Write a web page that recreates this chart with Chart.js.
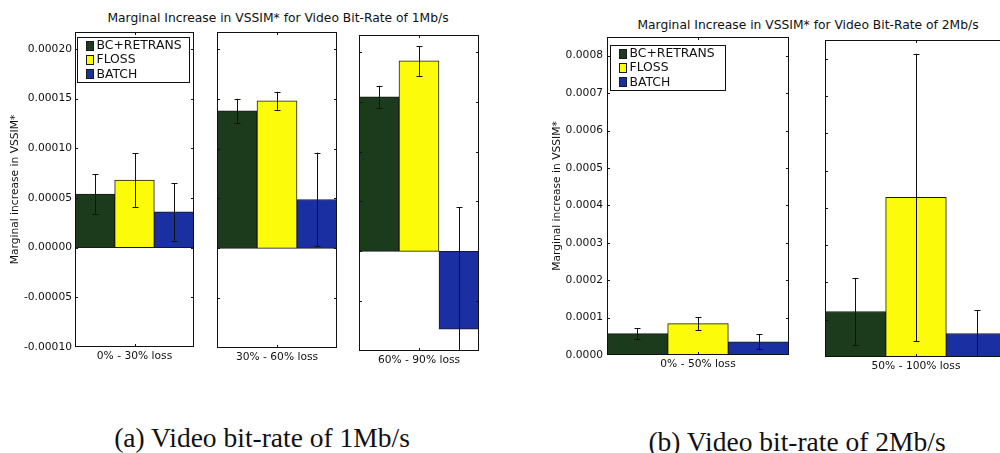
<!DOCTYPE html>
<html>
<head>
<meta charset="utf-8">
<title>Marginal Increase in VSSIM*</title>
<script src="https://cdn.jsdelivr.net/npm/chart.js@4.4.0/dist/chart.umd.min.js"></script>
<style>
  html, body { margin: 0; padding: 0; background: #fff; overflow: hidden; }
  #stage { position: relative; width: 1000px; height: 453px; overflow: hidden; background: #fff; }
  #stage canvas { position: absolute; }
  .suptitle { position: absolute; font-family: "DejaVu Sans", sans-serif; font-size: 12.3px; line-height: 14px;
              color: #111; white-space: nowrap; transform: translateX(-50%); }
  .caption { position: absolute; font-family: "Liberation Serif", serif; font-size: 27.5px; line-height: 30px;
             color: #111; white-space: nowrap; transform: translateX(-50%); }
</style>
</head>
<body>
<div id="stage">
  <div class="suptitle" style="left:278px; top:11px;">Marginal Increase in VSSIM* for Video Bit-Rate of 1Mb/s</div>
  <div class="suptitle" style="left:808px; top:18px;">Marginal Increase in VSSIM* for Video Bit-Rate of 2Mb/s</div>
  <div class="caption" style="left:262px; top:423px;">(a) Video bit-rate of 1Mb/s</div>
  <div class="caption" style="left:797px; top:427px;">(b) Video bit-rate of 2Mb/s</div>
</div>
<script>
// ---- data ----
const seriesNames = ['BC+RETRANS', 'FLOSS', 'BATCH'];

// (a) 1 Mb/s
const lossBins1 = ['0% - 30% loss', '30% - 60% loss', '60% - 90% loss'];
const bcRetrans1 = [0.000054, 0.000138, 0.000155];
const bcRetransErr1 = [0.000020, 0.000012, 0.000011];
const floss1 = [0.000068, 0.000148, 0.000191];
const flossErr1 = [0.000027, 0.000009, 0.000015];
const batch1 = [0.000036, 0.000049, -0.000078];
const batchErr1 = [0.000029, 0.000047, 0.000122];
const yTicks1 = [-0.0001, -0.00005, 0, 0.00005, 0.0001, 0.00015, 0.0002];

// (b) 2 Mb/s
const lossBins2 = ['0% - 50% loss', '50% - 100% loss'];
const bcRetrans2 = [0.000057, 0.000122];
const bcRetransErr2 = [0.000015, 0.000090];
const floss2 = [0.000084, 0.000428];
const flossErr2 = [0.000017, 0.000385];
const batch2 = [0.000035, 0.000063];
const batchErr2 = [0.000020, 0.000062];
const yTicks2 = [0, 0.0001, 0.0002, 0.0003, 0.0004, 0.0005, 0.0006, 0.0007, 0.0008];

// ---- styling ----
const seriesColors = ['#1c3b1d', '#fcfb0a', '#1a30a2'];
const edgeColor = '#1a1a1a';
const yTitle = 'Marginal increase in VSSIM*';

const figures = {
  a: { bins: lossBins1, values: [bcRetrans1, floss1, batch1], errors: [bcRetransErr1, flossErr1, batchErr1],
       ticks: yTicks1, min: -0.0001, max: 0.000217, digits: 5 },
  b: { bins: lossBins2, values: [bcRetrans2, floss2, batch2], errors: [bcRetransErr2, flossErr2, batchErr2],
       ticks: yTicks2, min: 0, max: 0.00085, digits: 4 }
};

// canvas placement for each panel
const panels = [
  { fig: 'a', i: 0, left: 0,   top: 0, w: 200, h: 380, pad: { left: 0, right: 6, top: 32, bottom: 0 }, yW: 75, xH: 33,
    labelPad: 3, titlePad: 8.6, legend: { dx: 2, dy: 5, w: 112, h: 45 } },
  { fig: 'a', i: 1, left: 210, top: 0, w: 135, h: 380, pad: { left: 7, right: 8, top: 32, bottom: 0 }, xH: 32 },
  { fig: 'a', i: 2, left: 352, top: 0, w: 135, h: 380, pad: { left: 7, right: 8, top: 35, bottom: 0 }, xH: 29 },
  { fig: 'b', i: 0, left: 540, top: 0, w: 255, h: 390, pad: { left: 0, right: 6, top: 37, bottom: 0 }, yW: 67, xH: 35,
    labelPad: 4, titlePad: 10.6, legend: { dx: 3, dy: 8, w: 115, h: 45 } },
  { fig: 'b', i: 1, left: 815, top: 0, w: 200, h: 390, pad: { left: 10, right: 8, top: 40, bottom: 0 }, xH: 33 }
];

Chart.defaults.font.family = '"DejaVu Sans", sans-serif';
Chart.defaults.color = '#111';

// frame, inward tick marks and error bars
const panelDecor = {
  id: 'panelDecor',
  afterDatasetsDraw(chart, args, opts) {
    const { ctx, chartArea: a, scales: { x, y } } = chart;
    ctx.save();
    ctx.strokeStyle = '#111';
    ctx.lineWidth = 1;

    // error bars, clipped to the plot area
    ctx.save();
    ctx.beginPath();
    ctx.rect(a.left, a.top, a.right - a.left, a.bottom - a.top);
    ctx.clip();
    chart.data.datasets.forEach((ds, d) => {
      const bar = chart.getDatasetMeta(d).data[0];
      const v = ds.data[0], e = ds.errorBars[0];
      const px = Math.round(bar.x) + 0.5;
      const yHi = y.getPixelForValue(v + e), yLo = y.getPixelForValue(v - e);
      ctx.beginPath();
      ctx.moveTo(px, yHi); ctx.lineTo(px, yLo);
      ctx.moveTo(px - 3, Math.round(yHi) + 0.5); ctx.lineTo(px + 3, Math.round(yHi) + 0.5);
      ctx.moveTo(px - 3, Math.round(yLo) + 0.5); ctx.lineTo(px + 3, Math.round(yLo) + 0.5);
      ctx.stroke();
    });
    ctx.restore();

    // inward ticks
    ctx.beginPath();
    opts.ticks.forEach(v => {
      const py = Math.round(y.getPixelForValue(v)) + 0.5;
      if (py < a.top || py > a.bottom) return;
      ctx.moveTo(a.left, py); ctx.lineTo(a.left + 3, py);
      ctx.moveTo(a.right - 3, py); ctx.lineTo(a.right, py);
    });
    const cx = Math.round(x.getPixelForValue(0)) + 0.5;
    ctx.moveTo(cx, a.bottom); ctx.lineTo(cx, a.bottom - 3);
    ctx.moveTo(cx, a.top); ctx.lineTo(cx, a.top + 3);
    ctx.stroke();

    // frame
    ctx.strokeRect(Math.round(a.left) + 0.5, Math.round(a.top) + 0.5,
                   Math.round(a.right - a.left) - 1, Math.round(a.bottom - a.top) - 1);
    ctx.restore();
  }
};

// boxed legend in the upper-left corner of the plot area
const boxLegend = {
  id: 'boxLegend',
  afterDraw(chart, args, opts) {
    if (!opts.box) return;
    const { ctx, chartArea: a } = chart;
    const b = opts.box;
    const bx = Math.round(a.left + b.dx) + 0.5, by = Math.round(a.top + b.dy) + 0.5;
    ctx.save();
    ctx.fillStyle = '#fff';
    ctx.fillRect(bx, by, b.w, b.h);
    ctx.strokeStyle = '#111';
    ctx.lineWidth = 1;
    ctx.strokeRect(bx, by, b.w, b.h);
    ctx.font = '12.4px "DejaVu Sans", sans-serif';
    ctx.textBaseline = 'middle';
    chart.data.datasets.forEach((ds, k) => {
      const cy = by + 8 + 14.2 * k;
      ctx.fillStyle = ds.backgroundColor;
      ctx.fillRect(bx + 9, Math.round(cy - 4.5), 7, 9);
      ctx.strokeStyle = edgeColor;
      ctx.strokeRect(bx + 9, Math.round(cy - 4.5) + 0.5, 7, 9);
      ctx.fillStyle = '#111';
      ctx.fillText(ds.label, bx + 19, cy + 0.5);
    });
    ctx.restore();
  }
};

panels.forEach(p => {
  const f = figures[p.fig];
  const canvas = document.createElement('canvas');
  canvas.width = p.w;
  canvas.height = p.h;
  canvas.style.left = p.left + 'px';
  canvas.style.top = p.top + 'px';
  canvas.style.width = p.w + 'px';
  canvas.style.height = p.h + 'px';
  document.getElementById('stage').appendChild(canvas);

  const hasAxis = !!p.yW;
  new Chart(canvas, {
    type: 'bar',
    data: {
      labels: [f.bins[p.i]],
      datasets: seriesNames.map((name, s) => ({
        label: name,
        data: [f.values[s][p.i]],
        errorBars: [f.errors[s][p.i]],
        backgroundColor: seriesColors[s],
        borderColor: edgeColor,
        borderWidth: 1,
        borderSkipped: false,
        barPercentage: 1,
        categoryPercentage: 1
      }))
    },
    options: {
      responsive: false,
      devicePixelRatio: 1,
      animation: false,
      events: [],
      layout: { padding: p.pad },
      plugins: {
        legend: { display: false },
        tooltip: { enabled: false },
        panelDecor: { ticks: f.ticks },
        boxLegend: { box: p.legend || null }
      },
      scales: {
        x: {
          grid: { display: false, drawTicks: false },
          border: { display: false },
          ticks: { padding: 3, font: { size: 10.7 }, color: '#111', maxRotation: 0, autoSkip: false },
          afterFit(scale) { scale.height = p.xH; }
        },
        y: {
          display: hasAxis,
          min: f.min,
          max: f.max,
          grid: { display: false, drawTicks: false },
          border: { display: false },
          afterBuildTicks(scale) { scale.ticks = f.ticks.map(value => ({ value })); },
          ticks: {
            padding: p.labelPad || 3,
            font: { size: 10.7 },
            color: '#111',
            callback: v => Number(v).toFixed(f.digits)
          },
          title: {
            display: hasAxis,
            text: yTitle,
            font: { size: 10.7 },
            color: '#111',
            padding: { top: p.titlePad || 0, bottom: 0 }
          },
          afterFit(scale) { if (hasAxis) scale.width = p.yW; }
        }
      }
    },
    plugins: [panelDecor, boxLegend]
  });
});
</script>
</body>
</html>
